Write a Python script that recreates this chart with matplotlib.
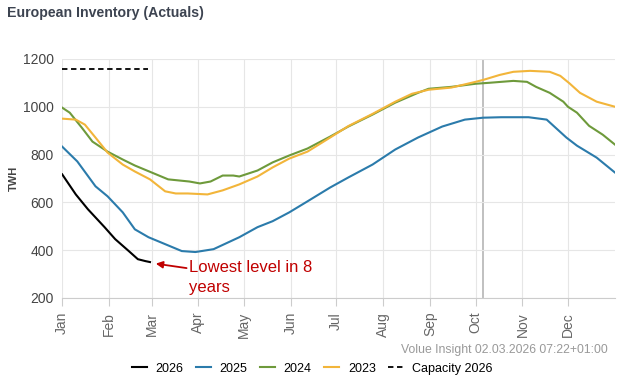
import matplotlib.pyplot as plt

plt.rcParams['font.family'] = ['Liberation Sans', 'DejaVu Sans']

# day of year -> stored energy (TWh)
days_2026 = [0, 9, 17, 28, 35, 44, 50, 55, 58]
inv_2026 = [717, 633, 571, 496, 446, 396, 362, 354, 350]

days_2025 = [0, 10, 22, 30, 40, 48, 57, 68, 79, 88, 100, 117, 129, 139, 150, 162, 177,
             189, 205, 220, 235, 251, 266, 278, 290, 308, 320, 333, 340, 353, 365]
inv_2025 = [833, 771, 667, 625, 558, 487, 454, 425, 396, 392, 404, 454, 496, 521, 558, 604, 662,
            704, 758, 821, 871, 917, 946, 954, 956, 956, 946, 871, 837, 787, 725]

days_2024 = [0, 5, 13, 20, 30, 40, 48, 59, 70, 84, 91, 98, 106, 113, 117, 129, 139, 150, 162,
             177, 189, 205, 220, 235, 242, 257, 273, 282, 298, 307, 313, 322, 331, 334, 340,
             348, 357, 365]
inv_2024 = [996, 975, 912, 854, 812, 779, 754, 725, 696, 687, 679, 687, 712, 712, 708, 733, 767,
            796, 825, 875, 917, 967, 1017, 1058, 1075, 1083, 1096, 1100, 1108, 1104, 1083, 1058,
            1021, 1000, 975, 920, 883, 842]

days_2023 = [0, 9, 15, 22, 30, 40, 48, 58, 68, 75, 83, 96, 106, 117, 129, 139, 150, 162, 177,
             189, 205, 220, 231, 242, 257, 273, 278, 289, 298, 309, 322, 329, 335, 342, 353, 365]
inv_2023 = [950, 946, 925, 871, 808, 758, 729, 696, 646, 637, 637, 633, 650, 675, 708, 746, 783,
            812, 871, 919, 970, 1021, 1054, 1071, 1080, 1104, 1112, 1133, 1146, 1150, 1146, 1129,
            1098, 1058, 1021, 1000]

capacity_days = [0, 57]
capacity_2026 = [1156, 1156]

month_starts = [0, 31, 59, 90, 120, 151, 181, 212, 243, 273, 304, 334]
month_labels = ['Jan', 'Feb', 'Mar', 'Apr', 'May', 'Jun', 'Jul', 'Aug', 'Sep', 'Oct', 'Nov', 'Dec']

fig = plt.figure(figsize=(6.28, 3.80), dpi=100)
ax = fig.add_axes([0.099, 0.216, 0.880, 0.629])

ax.plot(days_2026, inv_2026, color='black', lw=1.5, label='2026')
ax.plot(days_2025, inv_2025, color='#2b7bab', lw=1.5, label='2025')
ax.plot(days_2024, inv_2024, color='#6e9a3b', lw=1.5, label='2024')
ax.plot(days_2023, inv_2023, color='#f2b53a', lw=1.5, label='2023')
ax.plot(capacity_days, capacity_2026, color='black', lw=1.3, ls=(0, (3, 2)), label='Capacity 2026')

# crosshair marker line
ax.axvline(278, color='#b5b5b5', lw=1.2, zorder=0.5)

ax.set_xlim(0, 365)
ax.set_ylim(200, 1200)
ax.set_yticks([200, 400, 600, 800, 1000, 1200])
ax.set_xticks(month_starts)
ax.set_xticklabels(month_labels, rotation=90)
ax.grid(True, color='#e6e6e6', lw=0.8)
ax.set_axisbelow(True)
for s in ['top', 'right', 'left']:
    ax.spines[s].set_visible(False)
ax.spines['bottom'].set_color('#cccccc')
ax.tick_params(axis='y', length=0, labelsize=10, labelcolor='#444444', pad=6)
ax.tick_params(axis='x', length=6, color='#cccccc', labelsize=10, labelcolor='#666666', pad=4)
ax.set_ylabel('TWH', fontsize=8, fontweight='bold', color='#444444', labelpad=3)

ax.annotate('Lowest level in 8\nyears', xy=(60, 345), xytext=(84, 360),
            fontsize=12, color='#c00000', ha='left', va='top', linespacing=1.45,
            arrowprops=dict(arrowstyle='-|>', color='#c00000', lw=1.3, mutation_scale=10,
                            shrinkA=0, shrinkB=2))

fig.text(0.011, 0.965, 'European Inventory (Actuals)', fontsize=10.2, fontweight='bold',
         color='#3d4451', va='center')
fig.text(0.967, 0.078, 'Volue Insight 02.03.2026 07:22+01:00', fontsize=8.8,
         color='#999999', ha='right', va='center')

fig.legend(loc='center', bbox_to_anchor=(0.497, 0.03), ncol=5, frameon=False, fontsize=9,
           handlelength=1.2, columnspacing=1.0, handletextpad=0.7)

fig.savefig('out.png', dpi=100)
